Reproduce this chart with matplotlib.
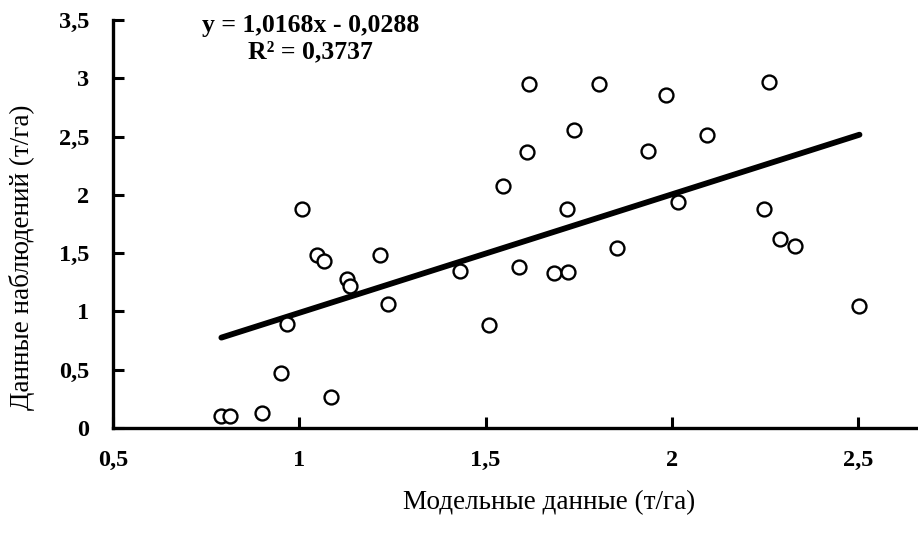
import matplotlib
matplotlib.use("Agg")
import matplotlib.pyplot as plt
import numpy as np

model_x = [0.791, 0.815, 0.901, 0.950, 0.968, 1.008, 1.048, 1.066, 1.086, 1.128,
           1.135, 1.217, 1.237, 1.431, 1.510, 1.547, 1.590, 1.612, 1.616, 1.683,
           1.719, 1.722, 1.737, 1.803, 1.852, 1.935, 1.984, 2.015, 2.093, 2.247,
           2.260, 2.290, 2.330, 2.503]
obs_y = [0.10, 0.10, 0.126, 0.47, 0.89, 1.875, 1.48, 1.43, 0.27, 1.28,
         1.22, 1.48, 1.06, 1.35, 0.88, 2.08, 1.38, 2.37, 2.95, 1.33,
         1.88, 1.34, 2.56, 2.95, 1.54, 2.38, 2.86, 1.94, 2.51, 1.88,
         2.97, 1.62, 1.56, 1.05]
slope = 1.0168
intercept = -0.0288
r2 = 0.3737
xticks = [0.5, 1, 1.5, 2, 2.5]
yticks = [0, 0.5, 1, 1.5, 2, 2.5, 3, 3.5]

plt.rcParams['font.family'] = ['Liberation Serif', 'DejaVu Serif']

fig = plt.figure(figsize=(9.18, 5.34), dpi=100)
ax = fig.add_axes([0.123, 0.1985, 0.877, 0.764])

ax.scatter(model_x, obs_y, s=100, facecolors='white', edgecolors='black',
           linewidths=1.7, zorder=3)
xl = np.array([min(model_x), max(model_x)])
ax.plot(xl, slope * xl + intercept, color='black', lw=4.2, solid_capstyle='round', zorder=2)

ax.set_xlim(0.5, 2.66)
ax.set_ylim(0, 3.5)
ax.set_xticks(xticks)
ax.set_yticks(yticks)
fmt = lambda v: (f"{v:g}").replace('.', ',')
ax.set_xticklabels([fmt(v) for v in xticks], fontsize=17.5, fontweight='bold')
ax.set_yticklabels([fmt(v) for v in yticks], fontsize=17.5, fontweight='bold')
ax.tick_params(direction='in', length=8, width=2.2)
ax.tick_params(axis='x', pad=16)
ax.tick_params(axis='y', pad=17)
for s in ['top', 'right']:
    ax.spines[s].set_visible(False)
for s in ['left', 'bottom']:
    ax.spines[s].set_linewidth(2.4)

ax.set_xlabel('Модельные данные (т/га)', fontsize=19.5)
ax.xaxis.set_label_coords(0.542, -0.184)
ax.xaxis.label.set_va('center')
ax.set_ylabel('Данные наблюдений (т/га)', fontsize=19.5)
ax.yaxis.set_label_coords(-0.113, 0.419)
ax.yaxis.label.set_va('center')

ax.text(1.03, 3.455, f"y = {slope:.4f}x - {abs(intercept):.4f}".replace('.', ','),
        fontsize=18.5, fontweight='bold', ha='center', va='center')
ax.text(1.03, 3.225, f"R² = {r2:.4f}".replace('.', ','),
        fontsize=18.5, fontweight='bold', ha='center', va='center')

fig.savefig('out.png', dpi=100)
